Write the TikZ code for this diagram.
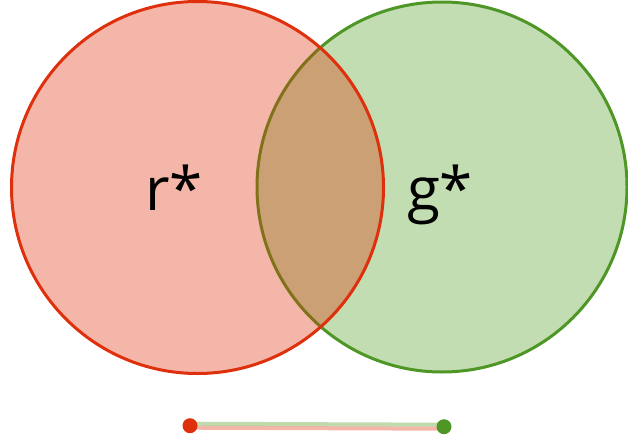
\documentclass[tikz,border=0pt]{standalone}
\usepackage{fontspec}
\setmainfont{Open Sans}
\usepackage{xcolor}
\usepackage{tikz}

\definecolor{rfill}{RGB}{224,47,6}
\definecolor{rline}{RGB}{222,48,12}
\definecolor{gfill}{RGB}{112,173,71}
\definecolor{gline}{RGB}{78,150,38}

\begin{document}
\begin{tikzpicture}[x=1pt,y=-1pt,
  setc/.style={circle,inner sep=0pt,line width=3pt},
  lab/.style={anchor=base,inner sep=0pt,font=\fontsize{60}{72}\selectfont},
  dot/.style={circle,inner sep=0pt,minimum size=15pt}]
\useasboundingbox (0,0) rectangle (628,444);
%两个集合
\node[setc,minimum size=370pt,draw=gline,fill=gfill,fill opacity=0.42] (g) at (442,187) {};
\node[setc,minimum size=372pt,draw=rline,fill=rfill,fill opacity=0.35] (r) at (197.5,187.5) {};
%标签
\node[lab] (rl) at (174,210) {r*};
\node[lab] (gl) at (440,210) {g*};

%底部线段
\node[dot] (rd) at (190,425.7) {};
\node[dot] (gd) at (444,426.7) {};
\draw[gfill,opacity=0.45,line width=4pt] ([yshift=2pt]rd.center) -- ([yshift=2pt]gd.center);
\draw[rfill,opacity=0.35,line width=4pt] ([yshift=-2pt]rd.center) -- ([yshift=-2pt]gd.center);
\fill[rline] (rd) circle (7.5pt);
\fill[gline] (gd) circle (7.5pt);
\end{tikzpicture}
\end{document}
